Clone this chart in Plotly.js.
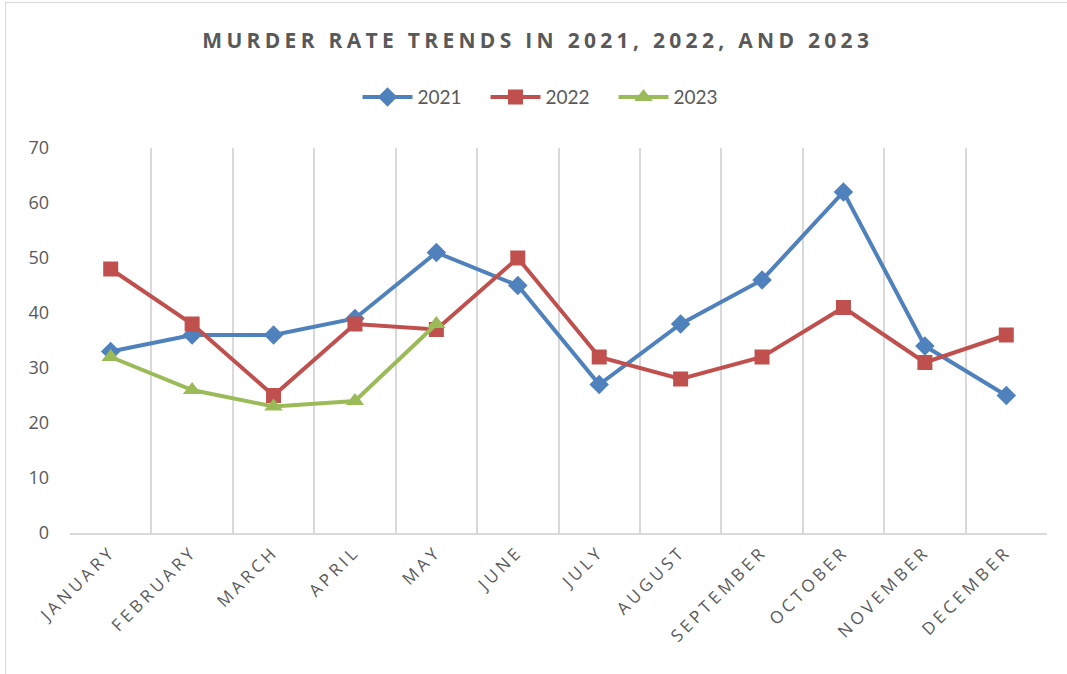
<!DOCTYPE html>
<html>
<head>
<meta charset="utf-8">
<script src="https://cdn.plot.ly/plotly-3.0.1.min.js"></script>
<style>
  html, body { margin: 0; padding: 0; background: #fff; }
  #frame { position: absolute; left: 5px; top: 2px; width: 1100px; height: 700px; border: 1px solid #d9d9d9; pointer-events: none; }
  #chart { position: absolute; left: 0; top: 0; width: 1067px; height: 674px; }
  .gtitle { letter-spacing: 4.3px; }
  .xtick text { letter-spacing: 3.7px; }
</style>
</head>
<body>
<div id="chart"></div>
<div id="frame"></div>
<script>
const months = ["JANUARY","FEBRUARY","MARCH","APRIL","MAY","JUNE","JULY","AUGUST","SEPTEMBER","OCTOBER","NOVEMBER","DECEMBER"];
const rate2021 = [33, 36, 36, 39, 51, 45, 27, 38, 46, 62, 34, 25];
const rate2022 = [48, 38, 25, 38, 37, 50, 32, 28, 32, 41, 31, 36];
const rate2023 = [32, 26, 23, 24, 38];
const months2023 = months.slice(0, rate2023.length);

const traces = [
  { x: months, y: rate2021, name: "2021", type: "scatter", mode: "lines+markers",
    line: { color: "#4f81bd", width: 4 }, marker: { symbol: "diamond", size: 15, color: "#4f81bd" } },
  { x: months, y: rate2022, name: "2022", type: "scatter", mode: "lines+markers",
    line: { color: "#c0504d", width: 4 }, marker: { symbol: "square", size: 15, color: "#c0504d" } },
  { x: months2023, y: rate2023, name: "2023", type: "scatter", mode: "lines+markers",
    line: { color: "#9bbb59", width: 4 }, marker: { symbol: "triangle-up", size: 16, color: "#9bbb59" } }
];

const layout = {
  width: 1067, height: 674,
  paper_bgcolor: "rgba(0,0,0,0)", plot_bgcolor: "#fff",
  margin: { l: 70, r: 20, t: 148, b: 141 },
  font: { family: "Open Sans, sans-serif", color: "#595959" },
  title: { text: "<b>MURDER RATE TRENDS IN 2021, 2022, AND 2023</b>",
    font: { family: "Open Sans, sans-serif", size: 21, color: "#595959" },
    xref: "container", yref: "container", x: 0.504, xanchor: "center", y: 0.94, yanchor: "middle" },
  showlegend: true,
  legend: { orientation: "h", xref: "container", yref: "container", x: 0.515, xanchor: "center",
    y: 0.856, yanchor: "middle", font: { family: "Lato, sans-serif", size: 19, color: "#595959" },
    itemwidth: 50, entrywidth: 63, entrywidthmode: "pixels", tracegroupgap: 0 },
  xaxis: { type: "category", range: [-0.5, 11.5], tickson: "boundaries", showgrid: true,
    gridcolor: "#d9d9d9", gridwidth: 2, showline: true, linecolor: "#d9d9d9", linewidth: 2,
    ticks: "", tickangle: -45, tickfont: { family: "Open Sans, sans-serif", size: 17, color: "#595959" },
    zeroline: false, fixedrange: true },
  yaxis: { range: [0, 70], dtick: 10, showgrid: false, zeroline: false, showline: false,
    ticks: "", ticklabelstandoff: 20, tickfont: { family: "Open Sans, sans-serif", size: 18, color: "#595959" },
    fixedrange: true }
};

Plotly.newPlot("chart", traces, layout, { staticPlot: true, displayModeBar: false });
</script>
</body>
</html>
